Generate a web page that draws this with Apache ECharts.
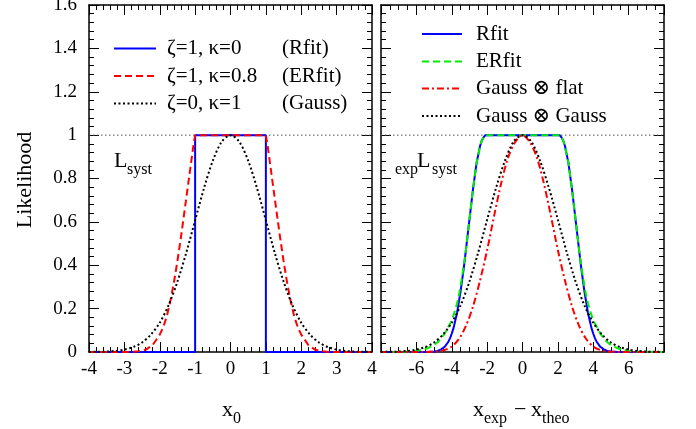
<!DOCTYPE html>
<html>
<head>
<meta charset="utf-8">
<script src="https://cdn.jsdelivr.net/npm/echarts@6/dist/echarts.min.js"></script>
<style>
html,body{margin:0;padding:0;background:#fff;}
#chart{width:696px;height:429px;}
</style>
</head>
<body>
<div id="chart"></div>
<script>
// ---------- data ----------
// Left panel: L_syst vs x0
const leftRfitX = [-4, -1, -1, 1, 1, 4];
const leftRfitY = [0, 0, 1, 1, 0, 0];

const leftERfitX = [-4, -2.8, -2.6, -2.4, -2.2, -2.0, -1.9, -1.8, -1.7, -1.6, -1.5, -1.4, -1.3, -1.2, -1.1, -1.05, -1.0,
                    1.0, 1.05, 1.1, 1.2, 1.3, 1.4, 1.5, 1.6, 1.7, 1.8, 1.9, 2.0, 2.2, 2.4, 2.6, 2.8, 4];
const leftERfitY = [0, 0, 0.003, 0.01, 0.032, 0.08, 0.115, 0.165, 0.235, 0.32, 0.42, 0.53, 0.65, 0.77, 0.89, 0.95, 1,
                    1, 0.95, 0.89, 0.77, 0.65, 0.53, 0.42, 0.32, 0.235, 0.165, 0.115, 0.08, 0.032, 0.01, 0.003, 0, 0];

const leftGaussX = [-4, -3.75, -3.5, -3.25, -3, -2.75, -2.5, -2.25, -2, -1.75, -1.5, -1.25, -1, -0.75, -0.5, -0.25, 0,
                    0.25, 0.5, 0.75, 1, 1.25, 1.5, 1.75, 2, 2.25, 2.5, 2.75, 3, 3.25, 3.5, 3.75, 4];
const leftGaussY = [0.0003, 0.0009, 0.002, 0.005, 0.011, 0.023, 0.044, 0.08, 0.135, 0.216, 0.325, 0.458, 0.607, 0.755, 0.882, 0.969, 1,
                    0.969, 0.882, 0.755, 0.607, 0.458, 0.325, 0.216, 0.135, 0.08, 0.044, 0.023, 0.011, 0.005, 0.002, 0.0009, 0.0003];

// Right panel: expL_syst vs x_exp - x_theo
const rightRfitX = [-8, -6, -5.4, -5.0, -4.8, -4.6, -4.4, -4.2, -4.1, -4.0, -3.9, -3.8, -3.7, -3.6, -3.5, -3.4, -3.3, -3.2, -3.1, -3.0,
                    -2.9, -2.8, -2.7, -2.6, -2.5, -2.4, -2.3, -2.2, -2.1,
                    2.1, 2.2, 2.3, 2.4, 2.5, 2.6, 2.7, 2.8, 2.9, 3.0, 3.1, 3.2, 3.3, 3.4, 3.5, 3.6, 3.7, 3.8, 3.9, 4.0,
                    4.1, 4.2, 4.4, 4.6, 4.8, 5.0, 5.4, 6, 8];
const rightRfitY = [0, 0, 0.0005, 0.002, 0.005, 0.012, 0.024, 0.046, 0.063, 0.085, 0.11, 0.145, 0.18, 0.23, 0.28, 0.34, 0.40, 0.47, 0.54, 0.61,
                    0.68, 0.75, 0.81, 0.87, 0.91, 0.95, 0.975, 0.99, 1,
                    1, 0.99, 0.975, 0.95, 0.91, 0.87, 0.81, 0.75, 0.68, 0.61, 0.54, 0.47, 0.40, 0.34, 0.28, 0.23, 0.18, 0.145, 0.11, 0.085,
                    0.063, 0.046, 0.024, 0.012, 0.005, 0.002, 0.0005, 0, 0];

const rightERfitX = [-8, -7, -6.5, -6, -5.4, -5.0, -4.8, -4.6, -4.4, -4.2, -4.0, -3.9, -3.8, -3.7, -3.6, -3.5, -3.4, -3.3, -3.2, -3.1, -3.0,
                     -2.9, -2.8, -2.7, -2.6, -2.5, -2.4, -2.3, -2.2, -2.1,
                     2.1, 2.2, 2.3, 2.4, 2.5, 2.6, 2.7, 2.8, 2.9, 3.0, 3.1, 3.2, 3.3, 3.4, 3.5, 3.6, 3.7, 3.8, 3.9, 4.0,
                     4.2, 4.4, 4.6, 4.8, 5.0, 5.4, 6, 6.5, 7, 8];
const rightERfitY = [0, 0.0008, 0.002, 0.005, 0.016, 0.032, 0.045, 0.062, 0.085, 0.115, 0.145, 0.17, 0.195, 0.225, 0.26, 0.305, 0.355, 0.41, 0.47, 0.54, 0.61,
                     0.68, 0.75, 0.81, 0.87, 0.91, 0.95, 0.975, 0.99, 1,
                     1, 0.99, 0.975, 0.95, 0.91, 0.87, 0.81, 0.75, 0.68, 0.61, 0.54, 0.47, 0.41, 0.355, 0.305, 0.26, 0.225, 0.195, 0.17, 0.145,
                     0.115, 0.085, 0.062, 0.045, 0.032, 0.016, 0.005, 0.002, 0.0008, 0];

const rightGaussFlatX = [-8, -5.6, -5.2, -4.8, -4.4, -4.0, -3.6, -3.2, -2.8, -2.4, -2.0, -1.6, -1.2, -0.8, -0.4, 0,
                         0.4, 0.8, 1.2, 1.6, 2.0, 2.4, 2.8, 3.2, 3.6, 4.0, 4.4, 4.8, 5.2, 5.6, 8];
const rightGaussFlatY = [0, 0, 0.001, 0.003, 0.009, 0.025, 0.06, 0.12, 0.21, 0.33, 0.47, 0.63, 0.78, 0.90, 0.97, 1,
                         0.97, 0.90, 0.78, 0.63, 0.47, 0.33, 0.21, 0.12, 0.06, 0.025, 0.009, 0.003, 0.001, 0, 0];

const rightGaussGaussX = [-8, -7.5, -7, -6.5, -6, -5.5, -5, -4.5, -4, -3.5, -3, -2.5, -2, -1.5, -1, -0.5, 0,
                          0.5, 1, 1.5, 2, 2.5, 3, 3.5, 4, 4.5, 5, 5.5, 6, 6.5, 7, 7.5, 8];
const rightGaussGaussY = [0.0003, 0.0009, 0.002, 0.005, 0.011, 0.023, 0.044, 0.08, 0.135, 0.215, 0.325, 0.46, 0.61, 0.755, 0.88, 0.97, 1,
                          0.97, 0.88, 0.755, 0.61, 0.46, 0.325, 0.215, 0.135, 0.08, 0.044, 0.023, 0.011, 0.005, 0.002, 0.0009, 0.0003];

// reference level and tick labels
const unitLevel = 1;
const leftXTickLabels = [-4, -3, -2, -1, 0, 1, 2, 3, 4];
const rightXTickLabels = [-6, -4, -2, 0, 2, 4, 6];
const yTickLabels = [0, 0.2, 0.4, 0.6, 0.8, 1, 1.2, 1.4, 1.6];

// legend texts
const legendLeftLabels = ['ζ=1, κ=0', 'ζ=1, κ=0.8', 'ζ=0, κ=1'];
const legendLeftNames = ['(Rfit)', '(ERfit)', '(Gauss)'];
const legendRightLabels = ['Rfit', 'ERfit', 'Gauss ⊗ flat', 'Gauss ⊗ Gauss'];

// ---------- chart ----------
const FONT = '"Liberation Serif", "Times New Roman", "DejaVu Serif", serif';
const zip = (xs, ys) => xs.map((x, i) => [x, ys[i]]);

const COL = { blue: '#0000ff', red: '#ff0000', green: '#00ee00', black: '#000000' };
const DASH = { solid: null, dashed: [7, 4], dotted: [2, 2.5], dashdot: [7, 3, 2, 3] };

function frameAxis(extra) {
  return Object.assign({
    type: 'value',
    axisLine: { show: true, onZero: false, lineStyle: { color: '#000', width: 1.5 } },
    axisTick: { show: true, inside: true, length: 10, lineStyle: { color: '#000', width: 1 } },
    minorTick: { show: true, splitNumber: 5, length: 5, lineStyle: { color: '#000', width: 1 } },
    splitLine: { show: false },
    minorSplitLine: { show: false },
    axisLabel: { show: false }
  }, extra);
}

const tickLabelStyle = { fontFamily: FONT, fontSize: 19, color: '#000' };

const xAxes = [
  frameAxis({ gridIndex: 0, position: 'bottom', min: -4, max: 4, interval: 1,
    axisLabel: Object.assign({ show: true, margin: 8, showMinLabel: true, showMaxLabel: true,
      formatter: v => leftXTickLabels.includes(v) ? String(v) : '' }, tickLabelStyle) }),
  frameAxis({ gridIndex: 0, position: 'top', min: -4, max: 4, interval: 1 }),
  frameAxis({ gridIndex: 1, position: 'bottom', min: -8, max: 8, interval: 2,
    minorTick: { show: true, splitNumber: 4, length: 5, lineStyle: { color: '#000', width: 1 } },
    axisLabel: Object.assign({ show: true, margin: 8, showMinLabel: true, showMaxLabel: true,
      formatter: v => rightXTickLabels.includes(v) ? String(v) : '' }, tickLabelStyle) }),
  frameAxis({ gridIndex: 1, position: 'top', min: -8, max: 8, interval: 2,
    minorTick: { show: true, splitNumber: 4, length: 5, lineStyle: { color: '#000', width: 1 } } })
];

const yAxes = [
  frameAxis({ gridIndex: 0, position: 'left', min: 0, max: 1.6, interval: 0.2,
    axisLabel: Object.assign({ show: true, margin: 12, showMinLabel: true, showMaxLabel: true,
      formatter: v => { const r = Math.round(v * 10) / 10; return yTickLabels.includes(r) ? String(r) : ''; } }, tickLabelStyle) }),
  frameAxis({ gridIndex: 0, position: 'right', min: 0, max: 1.6, interval: 0.2 }),
  frameAxis({ gridIndex: 1, position: 'left', min: 0, max: 1.6, interval: 0.2 }),
  frameAxis({ gridIndex: 1, position: 'right', min: 0, max: 1.6, interval: 0.2 })
];

function lineSeries(name, xi, yi, data, color, dash, smooth, z) {
  return {
    name, type: 'line', xAxisIndex: xi, yAxisIndex: yi, data,
    symbol: 'none', showSymbol: false, smooth: smooth || false,
    lineStyle: { color, width: 2, type: dash || 'solid' }, itemStyle: { color },
    z: z, animation: false, silent: true
  };
}

const refLine = (xi, yi, xmin, xmax) => ({
  type: 'line', xAxisIndex: xi, yAxisIndex: yi, data: [[xmin, unitLevel], [xmax, unitLevel]],
  symbol: 'none', lineStyle: { color: '#555', width: 1, type: [1.5, 2.5] }, z: 1, animation: false, silent: true
});

const series = [
  refLine(0, 0, -4, 4),
  refLine(2, 2, -8, 8),
  lineSeries('L_Rfit', 0, 0, zip(leftRfitX, leftRfitY), COL.blue, DASH.solid, false, 2),
  lineSeries('L_ERfit', 0, 0, zip(leftERfitX, leftERfitY), COL.red, DASH.dashed, false, 3),
  lineSeries('L_Gauss', 0, 0, zip(leftGaussX, leftGaussY), COL.black, DASH.dotted, 0.3, 4),
  lineSeries('R_Rfit', 2, 2, zip(rightRfitX, rightRfitY), COL.blue, DASH.solid, false, 2),
  lineSeries('R_ERfit', 2, 2, zip(rightERfitX, rightERfitY), COL.green, DASH.dashed, false, 3),
  lineSeries('R_GF', 2, 2, zip(rightGaussFlatX, rightGaussFlatY), COL.red, DASH.dashdot, 0.3, 4),
  lineSeries('R_GG', 2, 2, zip(rightGaussGaussX, rightGaussGaussY), COL.black, DASH.dotted, 0.3, 5)
];

function txt(text, x, y, size, extra) {
  return Object.assign({
    type: 'text', x, y, silent: true, z: 100,
    style: { text, fontFamily: FONT, fontSize: size, fill: '#000', align: 'left', verticalAlign: 'middle' }
  }, extra || {});
}
function sample(x1, x2, y, color, dash) {
  return {
    type: 'line', silent: true, z: 100,
    shape: { x1, y1: y, x2, y2: y },
    style: { stroke: color, lineWidth: 2, lineDash: dash || null }
  };
}

// legend (samples + text)
const leftRows = [48.5, 76, 103.5];
const leftStyles = [[COL.blue, DASH.solid], [COL.red, DASH.dashed], [COL.black, DASH.dotted]];
const rightRows = [34, 61.5, 88.5, 116];
const rightStyles = [[COL.blue, DASH.solid], [COL.green, DASH.dashed], [COL.red, DASH.dashdot], [COL.black, DASH.dotted]];

const graphics = [];
leftRows.forEach((y, i) => {
  graphics.push(sample(114, 156, y, leftStyles[i][0], leftStyles[i][1]));
  graphics.push(txt(legendLeftLabels[i], 167, y, 21));
  graphics.push(txt(legendLeftNames[i], 282, y, 21));
});
rightRows.forEach((y, i) => {
  graphics.push(sample(422, 462, y, rightStyles[i][0], rightStyles[i][1]));
  graphics.push(txt(legendRightLabels[i], 476, y, 21));
});

graphics.push(
  // panel annotations
  txt('L', 114, 161, 22),
  txt('syst', 127, 170, 16),
  txt('exp', 395, 170, 16),
  txt('L', 417, 161, 22),
  txt('syst', 432, 170, 16),
  // x axis titles
  txt('x', 222, 410, 22),
  txt('0', 233, 419, 16),
  txt('x', 473, 410, 22),
  txt('exp', 484, 419, 16),
  txt('−', 514, 410, 22),
  txt('x', 531, 410, 22),
  txt('theo', 542, 419, 16),
  // y axis title
  {
    type: 'text', x: 25, y: 180, rotation: Math.PI / 2, silent: true,
    style: { text: 'Likelihood', fontFamily: FONT, fontSize: 22, fill: '#000', align: 'center', verticalAlign: 'middle' }
  }
);

const chart = echarts.init(document.getElementById('chart'), null, { renderer: 'canvas' });
chart.setOption({
  animation: false,
  backgroundColor: '#fff',
  grid: [
    { left: 89, top: 5, width: 283, height: 347, containLabel: false, outerBoundsMode: 'none' },
    { left: 381, top: 5, width: 283, height: 347, containLabel: false, outerBoundsMode: 'none' }
  ],
  xAxis: xAxes,
  yAxis: yAxes,
  series: series,
  graphic: graphics
});
</script>
</body>
</html>
